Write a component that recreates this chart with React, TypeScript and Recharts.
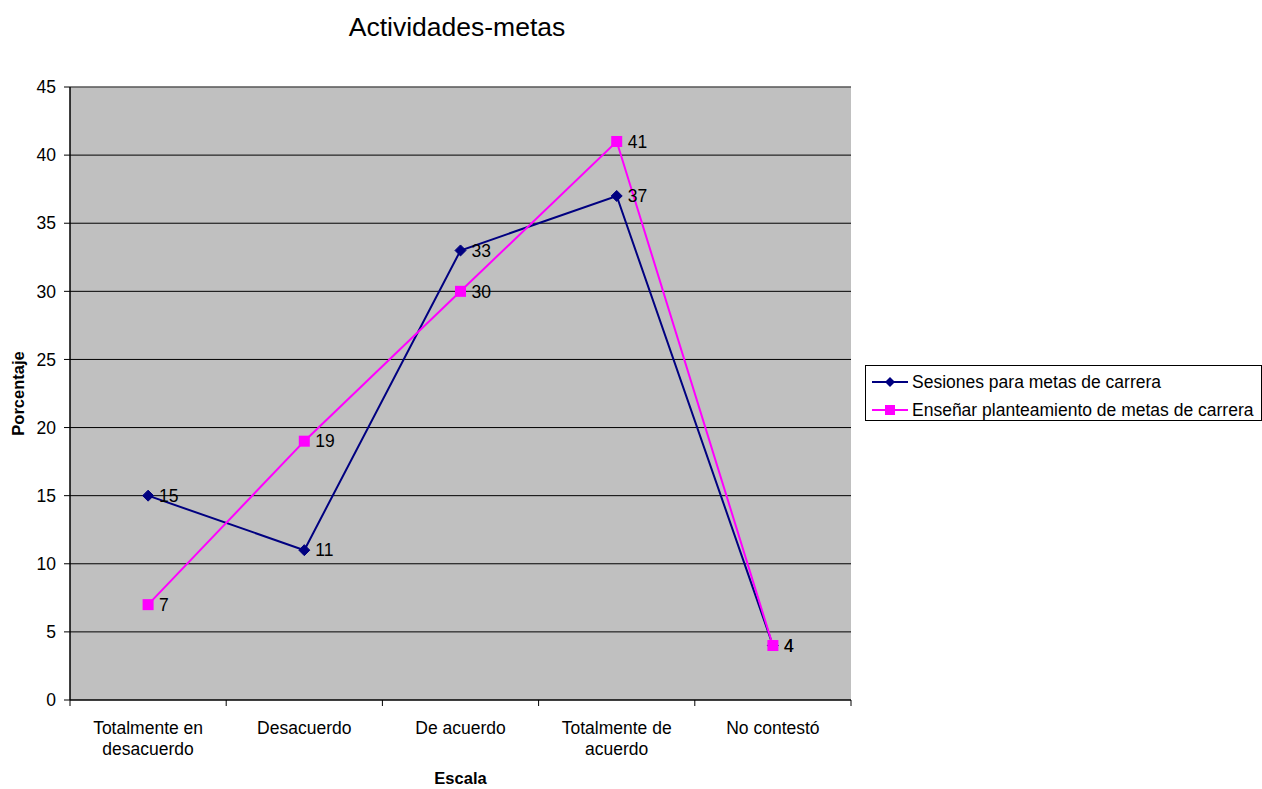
import {
  CartesianGrid,
  LabelList,
  Line,
  LineChart,
  ReferenceLine,
  XAxis,
  YAxis,
} from 'recharts';

document.body.style.margin = '0';

const categories = [
  'Totalmente en\ndesacuerdo',
  'Desacuerdo',
  'De acuerdo',
  'Totalmente de\nacuerdo',
  'No contestó',
];
const sesiones = [15, 11, 33, 37, 4];
const ensenar = [7, 19, 30, 41, 4];
const yTicks = [0, 5, 10, 15, 20, 25, 30, 35, 40, 45];
const seriesNames = [
  'Sesiones para metas de carrera',
  'Enseñar planteamiento de metas de carrera',
];

const data = categories.map((name, i) => ({
  name,
  sesiones: sesiones[i],
  ensenar: ensenar[i],
}));

const FONT = '"Liberation Sans", Arial, sans-serif';
const FS = 17.5;
const W = 1262;
const H = 789;
const margin = { top: 87, right: 411, bottom: 0, left: 0 };
const Y_AXIS_W = 70;
const X_AXIS_H = 89;
const bandW = (W - margin.left - margin.right - Y_AXIS_W) / categories.length;

const NAVY = '#000080';
const MAGENTA = '#ff00ff';

const Diamond = ({ cx, cy }: any) =>
  cx == null ? null : (
    <polygon
      points={`${cx},${cy - 5.5} ${cx + 5.5},${cy} ${cx},${cy + 5.5} ${cx - 5.5},${cy}`}
      fill={NAVY}
      stroke={NAVY}
    />
  );

const Square = ({ cx, cy }: any) =>
  cx == null ? null : (
    <rect x={cx - 5.5} y={cy - 5.5} width={11} height={11} fill={MAGENTA} />
  );

const CategoryTick = ({ x, y, payload, index }: any) => {
  const lines = String(payload.value).split('\n');
  const left = x - bandW / 2;
  return (
    <g>
      <line x1={left} y1={y} x2={left} y2={y + 6} stroke='#000' />
      {index === categories.length - 1 && (
        <line x1={left + bandW} y1={y} x2={left + bandW} y2={y + 6} stroke='#000' />
      )}
      <text x={x} y={y + 34} textAnchor='middle' fontSize={FS} fontFamily={FONT} fill='#000'>
        {lines.map((l, i) => (
          <tspan key={i} x={x} dy={i === 0 ? 0 : 21}>
            {l}
          </tspan>
        ))}
      </text>
    </g>
  );
};

const LegendBox = () => (
  <div
    style={{
      position: 'absolute',
      left: 865,
      top: 365,
      border: '1px solid #000',
      background: '#fff',
      width: 395,
      height: 54,
      fontFamily: FONT,
      fontSize: FS,
      color: '#000',
      whiteSpace: 'nowrap',
    }}
  >
    {[
      { label: seriesNames[0], color: NAVY, marker: 'diamond' },
      { label: seriesNames[1], color: MAGENTA, marker: 'square' },
    ].map((item, i) => (
      <div
        key={item.label}
        style={{ display: 'flex', alignItems: 'center', height: 28, marginTop: i === 0 ? 2 : 0 }}
      >
        <svg width={46} height={14} style={{ marginLeft: 5, flexShrink: 0 }}>
          <line x1={1} y1={7} x2={37} y2={7} stroke={item.color} strokeWidth={2} />
          {item.marker === 'diamond' ? (
            <polygon points='19,2 24,7 19,12 14,7' fill={item.color} />
          ) : (
            <rect x={14} y={2} width={10} height={10} fill={item.color} />
          )}
        </svg>
        <span style={{ marginLeft: -5 }}>{item.label}</span>
      </div>
    ))}
  </div>
);

const YLabel = ({ viewBox }: any) => {
  const cx = 18;
  const cy = viewBox.y + viewBox.height / 2;
  return (
    <text
      x={cx}
      y={cy}
      transform={`rotate(-90 ${cx} ${cy})`}
      textAnchor='middle'
      dominantBaseline='central'
      fontSize={16.5}
      fontWeight='bold'
      fontFamily={FONT}
      fill='#000'
    >
      Porcentaje
    </text>
  );
};

const XLabel = ({ viewBox }: any) => (
  <text
    x={viewBox.x + viewBox.width / 2}
    y={viewBox.y + 78}
    textAnchor='middle'
    dominantBaseline='central'
    fontSize={16.5}
    fontWeight='bold'
    fontFamily={FONT}
    fill='#000'
  >
    Escala
  </text>
);

export default function App() {
  return (
    <div style={{ position: 'relative', width: W, height: H, background: '#fff' }}>
      <div
        style={{
          position: 'absolute',
          left: 0,
          width: 914,
          top: 12,
          textAlign: 'center',
          fontFamily: FONT,
          fontSize: 26.5,
          color: '#000',
        }}
      >
        Actividades-metas
      </div>
      <LineChart width={W} height={H} data={data} margin={margin}>
        <CartesianGrid vertical={false} stroke='#000' fill='#c0c0c0' fillOpacity={1} />
        <XAxis
          dataKey='name'
          interval={0}
          padding={{ left: bandW / 2, right: bandW / 2 }}
          tickSize={0}
          tickMargin={0}
          tickLine={false}
          axisLine={{ stroke: '#000' }}
          tick={<CategoryTick />}
          height={X_AXIS_H}
          label={{ content: XLabel }}
        />
        <YAxis
          domain={[0, 45]}
          ticks={yTicks}
          width={Y_AXIS_W}
          tickSize={6}
          tickMargin={8}
          axisLine={{ stroke: '#000', strokeWidth: 1.5 }}
          tickLine={{ stroke: '#000' }}
          tick={{ fontSize: FS, fontFamily: FONT, fill: '#000' }}
          label={{ content: YLabel }}
        />
        <YAxis
          yAxisId='r'
          orientation='right'
          width={0}
          tick={false}
          tickLine={false}
          axisLine={{ stroke: '#808080', strokeWidth: 2 }}
        />
        <ReferenceLine y={45} stroke='#808080' />
        <Line
          type='linear'
          dataKey='sesiones'
          name={seriesNames[0]}
          stroke={NAVY}
          strokeWidth={2}
          dot={<Diamond />}
          activeDot={false}
          isAnimationActive={false}
        >
          <LabelList
            dataKey='sesiones'
            position='right'
            offset={11}
            fontSize={FS}
            fontFamily={FONT}
            fill='#000'
          />
        </Line>
        <Line
          type='linear'
          dataKey='ensenar'
          name={seriesNames[1]}
          stroke={MAGENTA}
          strokeWidth={2}
          dot={<Square />}
          activeDot={false}
          isAnimationActive={false}
        >
          <LabelList
            dataKey='ensenar'
            position='right'
            offset={11}
            fontSize={FS}
            fontFamily={FONT}
            fill='#000'
          />
        </Line>
      </LineChart>
      <LegendBox />
    </div>
  );
}
